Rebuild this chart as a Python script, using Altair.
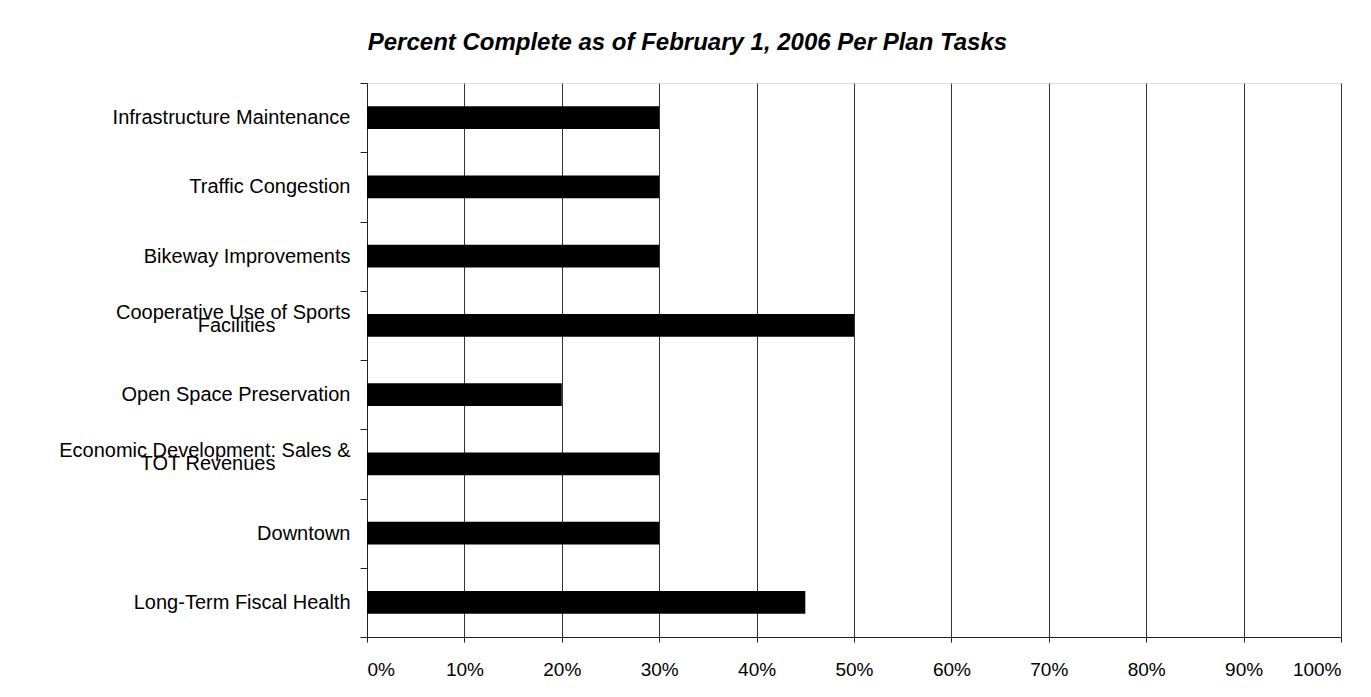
import altair as alt
import pandas as pd

# Categories (top to bottom); "|" marks a line break in the axis label
categories = [
    "Infrastructure Maintenance",
    "Traffic Congestion",
    "Bikeway Improvements",
    "Cooperative Use of Sports|Facilities",
    "Open Space Preservation",
    "Economic Development: Sales &|TOT Revenues",
    "Downtown",
    "Long-Term Fiscal Health",
]
percent_complete = [30, 30, 30, 50, 20, 30, 30, 45]
x_tick_values = [0, 10, 20, 30, 40, 50, 60, 70, 80, 90, 100]

# trailing blank characters so the wrapped second line sits centred under the first
pad_chars = {3: "\u2800" * 5, 5: "\u2800" * 5}
labels = []
for i, c in enumerate(categories):
    # wrapped labels get an empty half-height line between their two lines
    labels.append(c.replace("|", "||") + pad_chars.get(i, ""))

df = pd.DataFrame({"label": labels, "pct": percent_complete})

FONT = "Liberation Sans"
# half-height lines: single labels get an empty first line, wrapped labels an
# empty middle line, so that every label block is centred on its band
label_expr = "indexof(datum.label, '|') >= 0 ? split(datum.label, '|') : ['', datum.label]"

chart = (
    alt.Chart(df)
    .mark_bar(color="black", height={"band": 0.33})
    .encode(
        x=alt.X(
            "pct:Q",
            scale=alt.Scale(domain=[0, 100], nice=False),
            axis=alt.Axis(
                values=x_tick_values,
                labelExpr="datum.value + '%'",
                title=None,
                grid=True,
                gridColor="#333333",
                gridWidth=1,
                tickSize=5,
                tickColor="#222222",
                domainColor="#222222",
                labelFontSize=19,
                labelFont=FONT,
                labelColor="black",
                labelPadding=18,
            ),
        ),
        y=alt.Y(
            "label:N",
            sort=labels,
            scale=alt.Scale(paddingInner=0, paddingOuter=0),
            axis=alt.Axis(
                title=None,
                tickBand="extent",
                labelExpr=label_expr,
                labelFontSize=20,
                labelFont=FONT,
                labelColor="black",
                labelLineHeight=13,
                labelOffset=-13,
                labelPadding=10,
                labelLimit=500,
                tickSize=7,
                tickColor="#222222",
                domainColor="#222222",
                grid=False,
            ),
        ),
    )
    .properties(
        width=974,
        height=554,
        title=alt.TitleParams(
            "Percent Complete as of February 1, 2006 Per Plan Tasks",
            anchor="start",
            dx=309,
            fontSize=24,
            fontStyle="italic",
            fontWeight="bold",
            font=FONT,
            color="black",
            offset=18,
        ),
        autosize=alt.AutoSizeParams(type="none"),
        padding={"left": 359, "top": 75, "right": 14, "bottom": 44},
    )
    .configure_view(stroke="#222222", strokeWidth=1.5)
    .configure(background="white")
)

chart.save("out.html", embed_options={"renderer": "svg", "actions": False})
